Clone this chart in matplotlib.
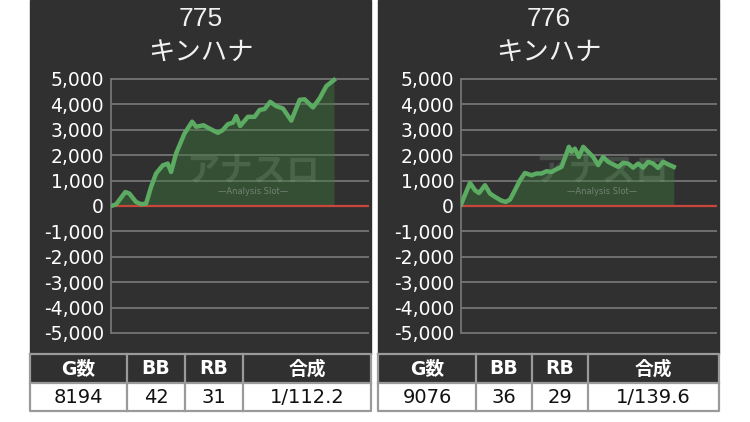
import matplotlib.pyplot as plt
from matplotlib.patches import Rectangle

plt.rcParams['font.family'] = ['DejaVu Sans', 'Noto Sans CJK JP']

# --- data ---
machines = ["775", "776"]
model = "キンハナ"

games_775 = [0, 184, 527, 675, 920, 1104, 1288, 1472, 1656, 1901, 2085, 2208, 2392,
             2699, 2981, 3128, 3398, 3619, 3925, 4109, 4293, 4477, 4600, 4747, 5029,
             5275, 5459, 5643, 5851, 6072, 6318, 6624, 6931, 7115, 7422, 7667, 7912, 8194]
diff_775 = [0, 60, 550, 490, 160, 70, 90, 750, 1280, 1600, 1670, 1340, 2070,
            2850, 3320, 3120, 3180, 3050, 2880, 2990, 3220, 3280, 3540, 3150, 3510,
            3510, 3780, 3820, 4100, 3930, 3840, 3360, 4180, 4200, 3880, 4240, 4720, 4960]

games_776 = [0, 383, 597, 767, 1023, 1236, 1449, 1704, 1903, 2088, 2301, 2514, 2727,
             3011, 3224, 3437, 3650, 3863, 4076, 4289, 4502, 4602, 4715, 4857, 5028,
             5213, 5426, 5639, 5852, 6065, 6278, 6491, 6704, 6917, 7130, 7343, 7556,
             7769, 7982, 8195, 8408, 8621, 8834, 9076]
diff_776 = [60, 910, 620, 510, 820, 490, 360, 220, 160, 250, 620, 1010, 1300,
            1210, 1280, 1280, 1370, 1340, 1450, 1540, 2070, 2330, 2130, 2260, 1930,
            2330, 2130, 1930, 1610, 1930, 1740, 1640, 1540, 1700, 1670, 1510, 1670,
            1510, 1740, 1670, 1500, 1740, 1640, 1540]

table_header = ["G数", "BB", "RB", "合成"]
table_775 = ["8194", "42", "31", "1/112.2"]
table_776 = ["9076", "36", "29", "1/139.6"]

yticks = list(range(-5000, 5001, 1000))

W, H = 750, 422
fig = plt.figure(figsize=(W / 100, H / 100), dpi=100)
fig.patch.set_facecolor("white")


def rect(x0, y0, x1, y1):
    # pixel box (top-left origin) -> figure fraction
    return [x0 / W, 1 - y1 / H, (x1 - x0) / W, (y1 - y0) / H]


BG = "#303030"
panels = [
    dict(px=(30, 371), ax_x=(111, 369), xmax=9480, games=games_775, diff=diff_775,
         name=machines[0], cols=(30, 127, 185, 243, 371), row=table_775),
    dict(px=(378, 719), ax_x=(461, 717), xmax=10920, games=games_776, diff=diff_776,
         name=machines[1], cols=(378, 476, 532, 588, 719), row=table_776),
]

for p in panels:
    x0, x1 = p["px"]
    fig.patches.append(Rectangle((x0 / W, 1 - 354 / H), (x1 - x0) / W, 354 / H,
                                 transform=fig.transFigure, color=BG, zorder=-5))
    cx = (x0 + x1) / 2 / W
    fig.text(cx, 1 - 19 / H, p["name"], ha="center", va="center", color="#f2f2f2",
             fontsize=19, family=["Liberation Sans"])
    fig.text(cx, 1 - 53 / H, model, ha="center", va="center", color="#f2f2f2",
             fontsize=19, family=["Noto Sans CJK JP"])

    # chart area, 0 at y=206px, 25.4 px per 1000
    ax = fig.add_axes(rect(p["ax_x"][0], 206 - 5.15 * 25.4, p["ax_x"][1], 206 + 5.15 * 25.4))
    ax.set_facecolor("none")
    ax.set_ylim(-5150, 5150)
    ax.set_xlim(0, p["xmax"])
    for y in yticks:
        if y != 0:
            ax.axhline(y, color="#7a7a7a", lw=1.2, zorder=1)
    ax.fill_between(p["games"], 0, p["diff"], color="#3a7a3a", alpha=0.42, lw=0, zorder=2)
    ax.axhline(0, color="#c8463c", lw=1.6, zorder=3)
    ax.plot(p["games"], p["diff"], color="#5cab62", lw=3.2, solid_joinstyle="round", zorder=4)

    # faint watermark
    wx = (p["games"][0] + p["xmax"]) * 0.55
    ax.text(wx, 1350, "アナスロ", ha="center", va="center", fontsize=24, style="italic",
            fontweight="bold", color="#9fbf9f", alpha=0.2, family=["Noto Sans CJK JP"], zorder=3)
    ax.text(wx, 560, "—Analysis Slot—", ha="center", va="center", fontsize=6,
            color="#cfcfcf", alpha=0.4, zorder=3)

    ax.set_yticks(yticks)
    ax.set_yticklabels([f"{v:,}" for v in yticks])
    ax.set_xticks([])
    ax.tick_params(axis="y", length=0, pad=5, labelsize=13.5, labelcolor="white")
    for s in ["top", "right", "bottom"]:
        ax.spines[s].set_visible(False)
    ax.spines["left"].set_bounds(-5000, 5000)
    ax.spines["left"].set_color("#7a7a7a")
    ax.spines["left"].set_linewidth(1.2)

    # stats table
    tx0, tx1 = p["cols"][0], p["cols"][-1]
    tax = fig.add_axes(rect(tx0, 354, tx1, 411))
    tax.set_xlim(tx0, tx1)
    tax.set_ylim(411, 354)
    tax.axis("off")
    tax.add_patch(Rectangle((tx0, 354), tx1 - tx0, 29, color=BG, zorder=0))
    tax.add_patch(Rectangle((tx0, 383), tx1 - tx0, 28, color="white", zorder=0))
    edge = dict(color="#9a9a9a", lw=1.6, zorder=2, clip_on=False)
    tax.plot([tx0, tx1, tx1, tx0, tx0], [354, 354, 411, 411, 354], **edge)
    tax.plot([tx0, tx1], [383, 383], **edge)
    for c in p["cols"][1:-1]:
        tax.plot([c, c], [354, 411], **edge)
    for i in range(4):
        mx = (p["cols"][i] + p["cols"][i + 1]) / 2
        tax.text(mx, 369, table_header[i], ha="center", va="center", color="white",
                 fontsize=13.5, fontweight="bold", family=["DejaVu Sans", "Noto Sans CJK JP"])
        tax.text(mx, 397.5, p["row"][i], ha="center", va="center", color="#111111",
                 fontsize=14)

fig.savefig("out.png", dpi=100)
